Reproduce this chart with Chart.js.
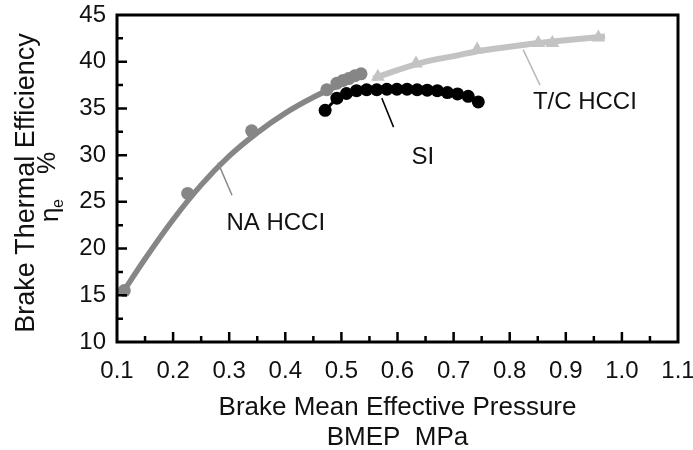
<!DOCTYPE html>
<html>
<head>
<meta charset="utf-8">
<script src="https://cdn.jsdelivr.net/npm/chart.js@4.4.0/dist/chart.umd.min.js"></script>
<style>
  html, body { margin: 0; padding: 0; background: #fff; }
  #wrap { width: 693px; height: 450px; }
</style>
</head>
<body>
<div id="wrap"><canvas id="myChart" width="693" height="450"></canvas></div>
<script>
// NA HCCI measured points
const naBmep = [0.113, 0.226, 0.340, 0.474, 0.492, 0.503, 0.513, 0.524, 0.535];
const naEff  = [15.5, 25.9, 32.6, 37.0, 37.7, 38.0, 38.2, 38.5, 38.7];
// NA HCCI fitted curve
const naFitBmep = [0.108, 0.15, 0.20, 0.25, 0.30, 0.35, 0.40, 0.45, 0.50, 0.54];
const naFitEff  = [15.1, 18.9, 23.1, 26.8, 29.9, 32.4, 34.5, 36.2, 37.6, 38.6];
// SI
const siBmep = [0.471, 0.492, 0.509, 0.527, 0.545, 0.563, 0.581, 0.599, 0.617, 0.635, 0.653, 0.671, 0.689, 0.707, 0.726, 0.744];
const siEff  = [34.8, 36.1, 36.6, 36.9, 37.0, 37.0, 37.05, 37.05, 37.05, 37.0, 36.95, 36.9, 36.7, 36.55, 36.3, 35.7];
// T/C HCCI measured points
const tcBmep = [0.565, 0.633, 0.742, 0.851, 0.876, 0.958];
const tcEff  = [38.4, 39.8, 41.3, 42.0, 42.0, 42.6];
// T/C HCCI fitted curve
const tcFitBmep = [0.557, 0.60, 0.65, 0.70, 0.75, 0.80, 0.85, 0.90, 0.97];
const tcFitEff  = [38.2, 39.1, 40.0, 40.6, 41.2, 41.6, 42.0, 42.3, 42.7];
// axes
const xTickLabels = ['0.1','0.2','0.3','0.4','0.5','0.6','0.7','0.8','0.9','1.0','1.1'];
const yTickLabels = ['10','15','20','25','30','35','40','45'];

const pts = (xs, ys) => xs.map((x, i) => ({ x: x, y: ys[i] }));

const NA_GRAY = '#868686';
const TC_GRAY = '#c3c3c3';
const TICK_FONT = "'Liberation Sans Narrow', 'Liberation Sans', Arial, sans-serif";
const TEXT_FONT = "'Liberation Sans', Arial, sans-serif";

// leader lines and labels (data units)
const notes = [
  { text: 'NA HCCI', at: [0.383, 22.7], from: [0.280, 29.2], to: [0.305, 25.7], color: '#8a8a8a' },
  { text: 'SI', at: [0.645, 29.8], from: [0.572, 36.1], to: [0.593, 33.0], color: '#000' },
  { text: 'T/C HCCI', at: [0.934, 35.7], from: [0.824, 41.3], to: [0.854, 37.5], color: '#b8b8b8' }
];

const framePlugin = {
  id: 'frame',
  afterDatasetsDraw(chart) {
    const ctx = chart.ctx;
    const a = chart.chartArea;
    const xs = chart.scales.x, ys = chart.scales.y;
    ctx.save();
    // leaders + labels
    notes.forEach(n => {
      ctx.strokeStyle = n.color;
      ctx.lineWidth = 1.5;
      ctx.beginPath();
      ctx.moveTo(xs.getPixelForValue(n.from[0]), ys.getPixelForValue(n.from[1]));
      ctx.lineTo(xs.getPixelForValue(n.to[0]), ys.getPixelForValue(n.to[1]));
      ctx.stroke();
      ctx.fillStyle = '#111';
      ctx.font = '24px ' + TEXT_FONT;
      ctx.textAlign = 'center';
      ctx.textBaseline = 'middle';
      ctx.fillText(n.text, xs.getPixelForValue(n.at[0]), ys.getPixelForValue(n.at[1]));
    });
    // frame
    ctx.strokeStyle = '#000';
    ctx.lineWidth = 3;
    ctx.strokeRect(a.left, a.top, a.right - a.left, a.bottom - a.top);
    // inward ticks
    ctx.lineWidth = 2.5;
    ctx.beginPath();
    for (let i = 0; i < xTickLabels.length - 1; i++) {
      const v = parseFloat(xTickLabels[i]);
      [v, v + 0.05].forEach((t, k) => {
        const px = xs.getPixelForValue(t);
        if (px <= a.left + 2) return;
        ctx.moveTo(px, a.bottom);
        ctx.lineTo(px, a.bottom - (k === 0 ? 10 : 6));
      });
    }
    for (let i = 0; i < yTickLabels.length - 1; i++) {
      const v = parseFloat(yTickLabels[i]);
      [v, v + 2.5].forEach((t, k) => {
        const py = ys.getPixelForValue(t);
        if (py >= a.bottom - 2) return;
        ctx.moveTo(a.left, py);
        ctx.lineTo(a.left + (k === 0 ? 10 : 6), py);
      });
    }
    ctx.stroke();
    // axis titles
    ctx.fillStyle = '#111';
    ctx.font = '26px ' + TEXT_FONT;
    ctx.textAlign = 'center';
    ctx.textBaseline = 'middle';
    const cx = (a.left + a.right) / 2;
    ctx.fillText('Brake Mean Effective Pressure', cx, 408);
    ctx.fillText('BMEP\u00a0\u00a0MPa', cx, 438);
    ctx.save();
    ctx.translate(27, 183);
    ctx.rotate(-Math.PI / 2);
    ctx.font = '27px ' + TEXT_FONT;
    ctx.fillText('Brake Thermal Efficiency', 0, 0);
    ctx.restore();
    ctx.save();
    ctx.translate(51, 188);
    ctx.rotate(-Math.PI / 2);
    ctx.textAlign = 'left';
    ctx.font = '26px ' + TEXT_FONT;
    ctx.fillText('η', -34, 0);
    ctx.font = '16px ' + TEXT_FONT;
    ctx.fillText('e', -20, 8);
    ctx.font = '25px ' + TEXT_FONT;
    ctx.fillText('%', 14, -3);
    ctx.restore();
    ctx.restore();
  }
};

new Chart(document.getElementById('myChart'), {
  type: 'scatter',
  data: {
    datasets: [
      {
        label: 'SI',
        data: pts(siBmep, siEff),
        showLine: true,
        borderColor: '#000',
        backgroundColor: '#000',
        borderWidth: 3,
        pointRadius: 6.5,
        pointBorderWidth: 0,
        clip: false,
        order: 1
      },
      {
        label: 'NA HCCI',
        data: pts(naBmep, naEff),
        showLine: false,
        backgroundColor: NA_GRAY,
        borderColor: NA_GRAY,
        pointRadius: 6.5,
        pointBorderWidth: 0,
        clip: false,
        order: 2
      },
      {
        label: 'NA HCCI fit',
        data: pts(naFitBmep, naFitEff),
        showLine: true,
        borderColor: NA_GRAY,
        borderWidth: 5.5,
        cubicInterpolationMode: 'monotone',
        pointRadius: 0,
        clip: false,
        order: 3
      },
      {
        label: 'T/C HCCI',
        data: pts(tcBmep, tcEff),
        showLine: false,
        pointStyle: 'triangle',
        backgroundColor: TC_GRAY,
        borderColor: TC_GRAY,
        pointRadius: 8,
        pointBorderWidth: 0,
        order: 4
      },
      {
        label: 'T/C HCCI fit',
        data: pts(tcFitBmep, tcFitEff),
        showLine: true,
        borderColor: TC_GRAY,
        borderWidth: 6,
        cubicInterpolationMode: 'monotone',
        pointRadius: 0,
        order: 5
      }
    ]
  },
  options: {
    responsive: false,
    animation: false,
    layout: { padding: { left: 0, top: 15, right: 15, bottom: 0 } },
    plugins: { legend: { display: false }, tooltip: { enabled: false } },
    scales: {
      x: {
        type: 'linear',
        min: 0.1,
        max: 1.1,
        afterFit: s => { s.height = 108; s.paddingLeft = 0; s.paddingRight = 0; },
        afterBuildTicks: s => { s.ticks = xTickLabels.map(t => ({ value: parseFloat(t) })); },
        grid: { display: false, drawTicks: false },
        border: { display: false },
        ticks: {
          padding: 15,
          color: '#111',
          font: { family: TICK_FONT, size: 24 },
          maxRotation: 0,
          callback: (v, i) => xTickLabels[i]
        }
      },
      y: {
        type: 'linear',
        min: 10,
        max: 45,
        afterFit: s => { s.width = 117; s.paddingTop = 0; s.paddingBottom = 0; },
        afterBuildTicks: s => { s.ticks = yTickLabels.map(t => ({ value: parseFloat(t) })); },
        grid: { display: false, drawTicks: false },
        border: { display: false },
        ticks: {
          padding: 11,
          color: '#111',
          font: { family: TICK_FONT, size: 24 },
          callback: (v, i) => yTickLabels[i]
        }
      }
    }
  },
  plugins: [framePlugin]
});
</script>
</body>
</html>
